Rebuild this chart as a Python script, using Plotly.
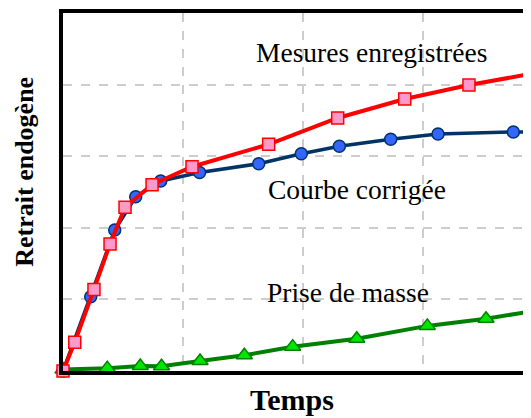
import plotly.graph_objects as go

# values (time in grid steps, shrinkage in grid steps)
t_mes = [0, 0.098, 0.258, 0.392, 0.517, 0.742, 1.075, 1.714, 2.289, 2.848, 3.383, 4.0]
v_mes = [0, 0.40, 1.14, 1.774, 2.286, 2.602, 2.853, 3.166, 3.534, 3.799, 3.994, 4.18]

t_corr = [0, 0.231, 0.431, 0.606, 0.814, 1.138, 1.631, 1.986, 2.303, 2.731, 3.125, 3.753, 4.0]
v_corr = [0, 1.038, 1.969, 2.434, 2.654, 2.772, 2.895, 3.035, 3.138, 3.236, 3.310, 3.338, 3.34]

t_masse = [0, 0.369, 0.644, 0.821, 1.142, 1.511, 1.914, 2.448, 3.036, 3.525, 4.0]
v_masse = [0.02, 0.04, 0.07, 0.066, 0.14, 0.22, 0.34, 0.45, 0.63, 0.73, 0.86]

labels = ['Mesures enregistrées', 'Courbe corrigée', 'Prise de masse']
label_x = [2.567, 2.45, 2.375]
label_y = [4.455, 2.54, 1.10]

fig = go.Figure()

fig.add_trace(go.Scatter(
    x = t_masse, y = v_masse, mode = 'lines+markers', cliponaxis = False,
    line = dict(color = 'rgb(0,128,0)', width = 4),
    marker = dict(symbol = 'triangle-up', size = 14, color = 'rgb(0,230,0)',
                  line = dict(color = 'rgb(0,128,0)', width = 1.5))))

fig.add_trace(go.Scatter(
    x = t_corr, y = v_corr, mode = 'lines+markers', cliponaxis = False,
    line = dict(color = 'rgb(0,51,102)', width = 3.5),
    marker = dict(symbol = 'circle', size = 12, color = 'rgb(51,102,255)',
                  line = dict(color = 'rgb(0,51,102)', width = 1.5))))

fig.add_trace(go.Scatter(
    x = t_mes, y = v_mes, mode = 'lines+markers', cliponaxis = False,
    line = dict(color = 'rgb(255,0,0)', width = 4),
    marker = dict(symbol = 'square', size = 12, color = 'rgb(255,153,204)',
                  line = dict(color = 'rgb(255,0,0)', width = 1.5))))

for txt, x, y in zip(labels, label_x, label_y):
    fig.add_annotation(x = x, y = y, text = txt, showarrow = False,
                       font = dict(family = 'Liberation Serif', size = 27.5, color = 'black'))

# page body adds an 8px offset, so the figure is smaller and margins shifted
fig.add_annotation(xref = 'paper', yref = 'paper', x = -0.083, y = 0.557, text = '<b>Retrait endogène</b>',
                   textangle = -90, showarrow = False, xanchor = 'center', yanchor = 'middle',
                   font = dict(family = 'Liberation Serif', size = 26, color = 'black'))
fig.add_annotation(xref = 'paper', yref = 'paper', x = 0.489, y = -0.081, text = '<b>Temps</b>',
                   showarrow = False, xanchor = 'center', yanchor = 'middle',
                   font = dict(family = 'Liberation Serif', size = 30, color = 'black'))

fig.update_layout(
    width = 523, height = 410,
    margin = dict(l = 55, r = 0, t = 5, b = 47),
    plot_bgcolor = 'white', paper_bgcolor = 'white',
    showlegend = False,
    xaxis = dict(range = [0, 3.9], tickvals = [1, 2, 3], showticklabels = False, ticks = '',
                 showgrid = True, gridcolor = 'rgb(205,205,205)', griddash = 'dash', gridwidth = 1.5,
                 showline = True, linecolor = 'black', linewidth = 4, mirror = True, zeroline = False),
    yaxis = dict(range = [0, 5], tickvals = [1, 2, 3, 4], showticklabels = False, ticks = '',
                 showgrid = True, gridcolor = 'rgb(205,205,205)', griddash = 'dash', gridwidth = 1.5,
                 showline = True, linecolor = 'black', linewidth = 4, mirror = False, zeroline = False),
)

fig.write_html('out.html')
